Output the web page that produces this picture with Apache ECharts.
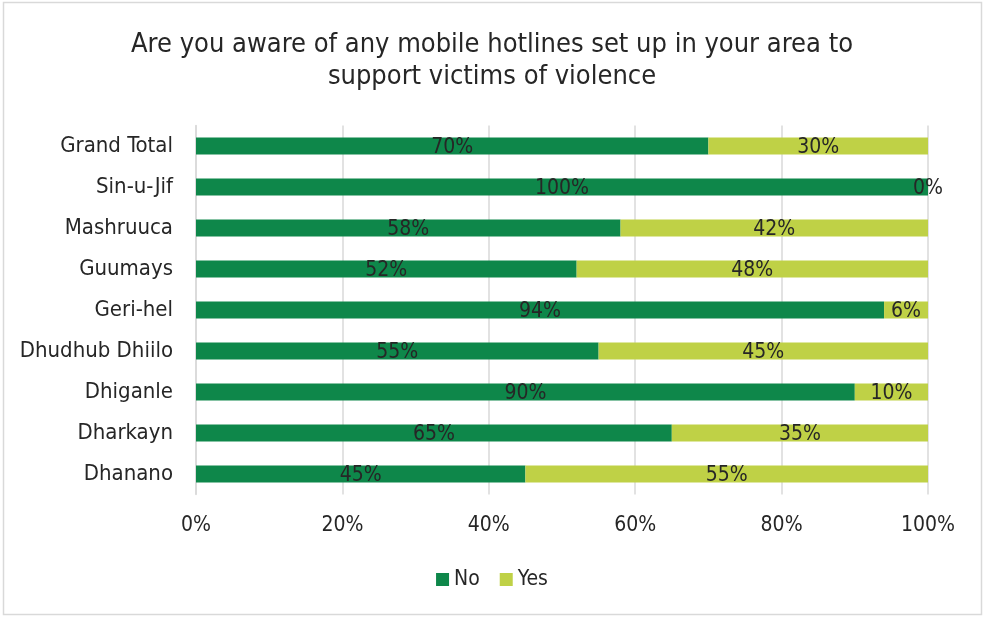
<!DOCTYPE html>
<html>
<head>
<meta charset="utf-8">
<script src="https://cdn.jsdelivr.net/npm/echarts@6/dist/echarts.min.js"></script>
<style>
  html, body { margin: 0; padding: 0; background: #fff; }
  #chart { width: 984px; height: 617px; }
</style>
</head>
<body>
<div id="chart"></div>
<script>
// Survey regions, bottom to top as drawn on the category axis
const categories = ['Dhanano', 'Dharkayn', 'Dhiganle', 'Dhudhub Dhiilo', 'Geri-hel', 'Guumays', 'Mashruuca', 'Sin-u-Jif', 'Grand Total'];
// Share of respondents (%) per answer
const noValues  = [45, 65, 90, 55, 94, 52, 58, 100, 70];
const yesValues = [55, 35, 10, 45, 6, 48, 42, 0, 30];
const seriesNames = ['No', 'Yes'];
const xTicks = [0, 20, 40, 60, 80, 100];

const FONT = '"Liberation Sans Narrow", "DejaVu Sans Condensed", sans-serif';
const TEXT = '#262626';

const chart = echarts.init(document.getElementById('chart'), null, { renderer: 'canvas' });

const labelStyle = {
  show: true,
  position: 'inside',
  formatter: p => p.value + '%',
  color: TEXT,
  fontFamily: FONT,
  fontSize: 21,
  offset: [0, 2]
};

chart.setOption({
  animation: false,
  graphic: [{
    type: 'rect',
    shape: { x: 3.5, y: 2.5, width: 978, height: 612 },
    style: { fill: 'none', stroke: '#d9d9d9', lineWidth: 1.5 },
    silent: true
  }],
  title: {
    text: 'Are you aware of any mobile hotlines set up in your area to\nsupport victims of violence',
    left: 'center',
    top: 24,
    textStyle: {
      fontFamily: FONT,
      fontWeight: 'normal',
      fontSize: 27,
      lineHeight: 32,
      color: TEXT
    }
  },
  legend: {
    data: seriesNames,
    bottom: 22,
    left: 'center',
    itemWidth: 13,
    itemHeight: 13,
    itemGap: 20,
    icon: 'rect',
    textStyle: { fontFamily: FONT, fontSize: 21, color: TEXT }
  },
  grid: {
    left: 196,
    right: 56,
    top: 125.5,
    height: 369
  },
  xAxis: {
    type: 'value',
    min: 0,
    max: 100,
    interval: 20,
    axisLine: { show: false },
    axisTick: { show: false },
    splitLine: { lineStyle: { color: '#d9d9d9', width: 1.5 } },
    axisLabel: {
      formatter: v => (xTicks.includes(v) ? v + '%' : ''),
      fontFamily: FONT,
      fontSize: 21,
      color: TEXT,
      margin: 21
    }
  },
  yAxis: {
    type: 'category',
    data: categories,
    axisLine: { show: true, lineStyle: { color: '#d9d9d9', width: 1.5 } },
    axisTick: { show: false },
    axisLabel: {
      fontFamily: FONT,
      fontSize: 22,
      color: TEXT,
      margin: 23
    }
  },
  series: [
    {
      name: seriesNames[0],
      type: 'bar',
      stack: 'total',
      barWidth: 17,
      data: noValues,
      itemStyle: { color: '#0e874a' },
      label: labelStyle
    },
    {
      name: seriesNames[1],
      type: 'bar',
      stack: 'total',
      barWidth: 17,
      data: yesValues,
      itemStyle: { color: '#bfd146' },
      label: labelStyle
    }
  ]
});
</script>
</body>
</html>
